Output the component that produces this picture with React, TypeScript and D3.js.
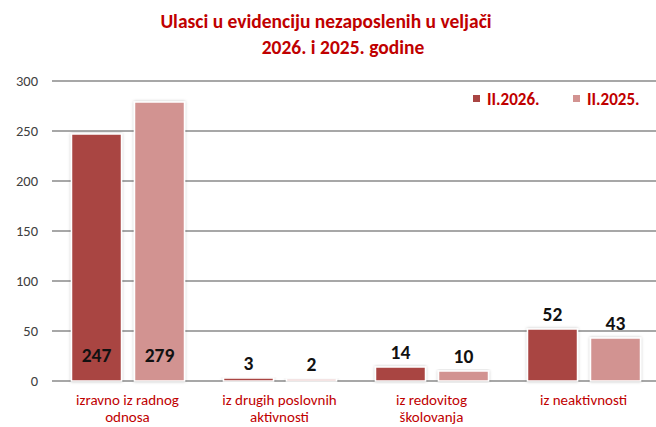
import React from "react";
import * as d3 from "d3";

const categories: string[][] = [
  ["izravno iz radnog", "odnosa"],
  ["iz drugih poslovnih", "aktivnosti"],
  ["iz redovitog", "školovanja"],
  ["iz neaktivnosti"],
];
const seriesNames = ["II.2026.", "II.2025."];
const values2026 = [247, 3, 14, 52];
const values2025 = [279, 2, 10, 43];
const yTicks = [0, 50, 100, 150, 200, 250, 300];
const titleLines = ["Ulasci u evidenciju nezaposlenih u veljači", "2026. i 2025. godine"];

const colors = ["#A94543", "#D29391"];
const red = "#C00000";
const font = "Carlito, Lato, 'Open Sans', sans-serif";

export default function App() {
  const W = 656, H = 427;
  const catIdx = d3.range(categories.length).map(String);
  const x0 = d3.scaleBand<string>().domain(catIdx).range([52, 660]).padding(0);
  const x1 = d3
    .scaleBand<string>()
    .domain(seriesNames)
    .range([19.5, 132.5])
    .paddingInner(2 - 113 / 63)
    .paddingOuter(0);
  const y = d3.scaleLinear().domain([0, 300]).range([381, 81]);
  const series = [values2026, values2025];

  return (
    <svg width={W} height={H} style={{ position: "absolute", left: 0, top: 0 }} fontFamily={font}>
      <defs>
        <filter id="sh" x="-20%" y="-20%" width="140%" height="140%">
          <feDropShadow dx="0" dy="0" stdDeviation="1.5" floodColor="#000" floodOpacity="0.25" />
        </filter>
      </defs>
      <rect x={0} y={0} width={W} height={H} fill="#fff" />
      {titleLines.map((t, i) => (
        <text
          key={i}
          x={i === 0 ? 326 : 343}
          y={i === 0 ? 28 : 54}
          textAnchor="middle"
          fill={red}
          fontWeight="bold"
          fontSize={19.5}
        >
          {t}
        </text>
      ))}
      {yTicks.map((t) => (
        <g key={t}>
          <line x1={52} x2={W} y1={y(t)} y2={y(t)} stroke="#8a8a8a" strokeWidth={1.5} />
          <text x={38} y={y(t) + 5} textAnchor="end" fontSize={14.5} fill="#404040">
            {t}
          </text>
        </g>
      ))}
      {series.map((vals, s) =>
        vals.map((v, i) => {
          const bx = x0(String(i))! + x1(seriesNames[s])!;
          const by = y(v);
          return (
            <rect
              key={`${s}-${i}`}
              x={bx}
              y={by}
              width={x1.bandwidth()}
              height={y(0) - by}
              fill={colors[s]}
              stroke="#fff"
              strokeWidth={1.5}
              filter="url(#sh)"
            />
          );
        })
      )}
      {series.map((vals, s) =>
        vals.map((v, i) => {
          const cx = x0(String(i))! + x1(seriesNames[s])! + x1.bandwidth() / 2;
          const inside = v > 200;
          const ly = inside ? y(0) - 19 : y(v) - 8;
          return (
            <text
              key={`l${s}-${i}`}
              x={cx}
              y={ly}
              textAnchor="middle"
              fontWeight="bold"
              fontSize={19.5}
              fill="#111"
            >
              {v}
            </text>
          );
        })
      )}
      {categories.map((lines, i) => (
        <text key={i} textAnchor="middle" fill={red} fontSize={15}>
          {lines.map((l, j) => (
            <tspan key={j} x={x0(String(i))! + 75.5} y={404.5 + j * 17.5}>
              {l}
            </tspan>
          ))}
        </text>
      ))}
      {seriesNames.map((n, s) => (
        <g key={n}>
          <rect x={s === 0 ? 473 : 573} y={95} width={7} height={7} fill={colors[s]} />
          <text x={s === 0 ? 487 : 587} y={105} fill={red} fontWeight="bold" fontSize={17}>
            {n}
          </text>
        </g>
      ))}
    </svg>
  );
}
